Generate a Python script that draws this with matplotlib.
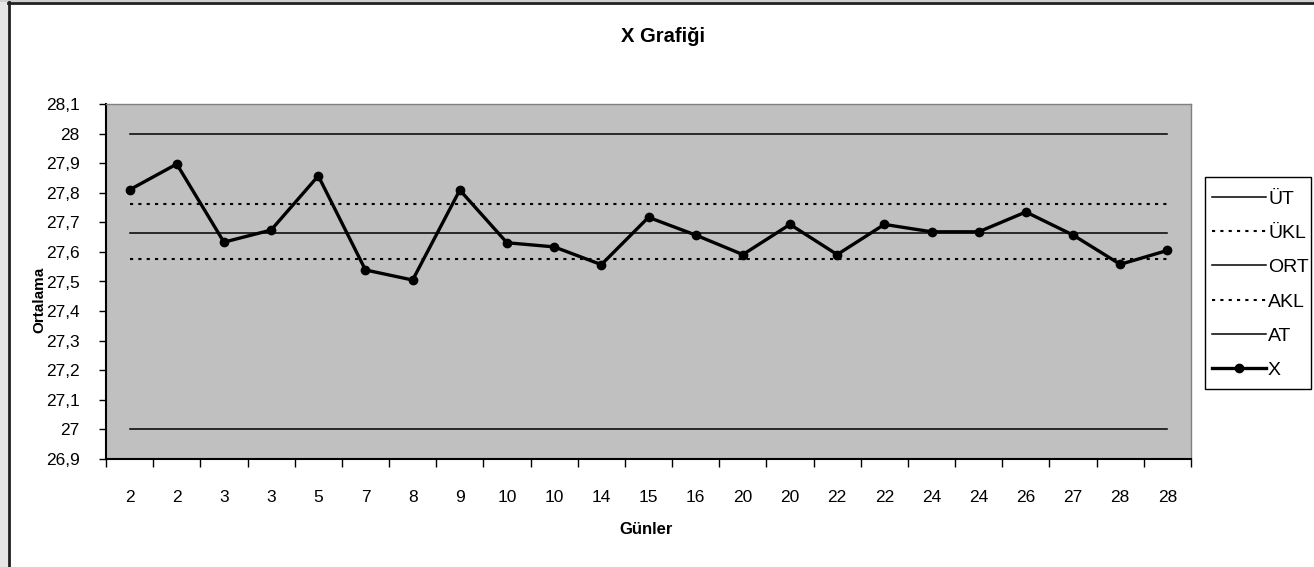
import numpy as np
import matplotlib
matplotlib.use('Agg')
import matplotlib.pyplot as plt
from matplotlib.lines import Line2D
from matplotlib.patches import Rectangle

# günler (kategori etiketleri) ve ortalamalar
gunler = ['2', '2', '3', '3', '5', '7', '8', '9', '10', '10', '14', '15', '16',
          '20', '20', '22', '22', '24', '24', '26', '27', '28', '28']
x_ort = [27.810, 27.897, 27.633, 27.674, 27.857, 27.539, 27.505, 27.809,
         27.631, 27.617, 27.557, 27.717, 27.657, 27.591, 27.693, 27.591,
         27.693, 27.668, 27.668, 27.735, 27.657, 27.558, 27.605]

# kontrol sınırları
ut = 28.0
ukl = 27.763
ort = 27.663
akl = 27.577
at = 27.0

y_ticks = [26.9, 27.0, 27.1, 27.2, 27.3, 27.4, 27.5, 27.6, 27.7, 27.8, 27.9, 28.0, 28.1]

W, H = 1314, 567
plt.rcParams['font.family'] = ['Liberation Sans', 'DejaVu Sans']

fig = plt.figure(figsize=(W / 100, H / 100), dpi=100)
fig.patch.set_facecolor('white')

# sol kenardaki gri şerit ve çerçeve
fig.add_artist(Rectangle((0, 0), 8 / W, 1, transform=fig.transFigure,
                         facecolor='#E6E6E6', edgecolor='none'))
fig.add_artist(Rectangle((0, 1 - 2 / H), 1, 2 / H, transform=fig.transFigure,
                         facecolor='#D0D0D0', edgecolor='none'))
fig.add_artist(Line2D([9 / W, 9 / W], [0, 1 - 2 / H], transform=fig.transFigure,
                      color='#202020', lw=2))
fig.add_artist(Line2D([8 / W, 1], [1 - 3 / H, 1 - 3 / H], transform=fig.transFigure,
                      color='#202020', lw=2))

ax = fig.add_axes([106 / W, 1 - 459 / H, (1191 - 106) / W, (459 - 104) / H])
ax.set_facecolor('#C0C0C0')

n = len(gunler)
x = np.arange(n)
dot = (0, (1.5, 2.5))

ax.plot(x, [ut] * n, color='black', lw=1.1, label='ÜT')
ax.plot(x, [ukl] * n, color='black', lw=1.5, ls=dot, dash_capstyle='butt', label='ÜKL')
ax.plot(x, [ort] * n, color='black', lw=1.1, label='ORT')
ax.plot(x, [akl] * n, color='black', lw=1.5, ls=dot, dash_capstyle='butt', label='AKL')
ax.plot(x, [at] * n, color='black', lw=1.1, label='AT')
ax.plot(x, x_ort, color='black', lw=2.4, marker='o', ms=6, label='X')

ax.set_xlim(-0.5, n - 0.5)
ax.set_ylim(26.9, 28.1)

ax.set_yticks(y_ticks)
ax.set_yticklabels([('%g' % v).replace('.', ',') for v in y_ticks])
ax.tick_params(axis='y', length=5, width=1, pad=14, labelsize=12.5, colors='black')

ax.set_xticks(x)
ax.set_xticklabels(gunler)
ax.set_xticks(np.arange(n + 1) - 0.5, minor=True)
ax.tick_params(axis='x', which='major', length=0, pad=22, labelsize=12.5)
ax.tick_params(axis='x', which='minor', length=6, width=1)

for s in ['top', 'right']:
    ax.spines[s].set_color('#808080')
    ax.spines[s].set_linewidth(1)
for s in ['left', 'bottom']:
    ax.spines[s].set_color('black')
    ax.spines[s].set_linewidth(1.5)

fig.text(663 / W, 1 - 36 / H, 'X Grafiği', ha='center', va='center',
         fontsize=14.5, fontweight='bold')
fig.text(646 / W, 1 - 529 / H, 'Günler', ha='center', va='center',
         fontsize=12, fontweight='bold')
fig.text(39 / W, 1 - 300 / H, 'Ortalama', ha='center', va='center',
         rotation=90, fontsize=11, fontweight='bold')

# lejant çerçevesi
fig.add_artist(Rectangle((1205 / W, 1 - 389 / H), 106 / W, 212 / H,
                         transform=fig.transFigure, facecolor='white',
                         edgecolor='black', lw=1))
leg = fig.legend(loc='upper left', bbox_to_anchor=(1212 / W, 1 - 190 / H),
                 fontsize=14, frameon=False, handlelength=2.8,
                 handletextpad=0.08, labelspacing=0.86, borderpad=0,
                 borderaxespad=0)

fig.savefig('out.png', dpi=100)
